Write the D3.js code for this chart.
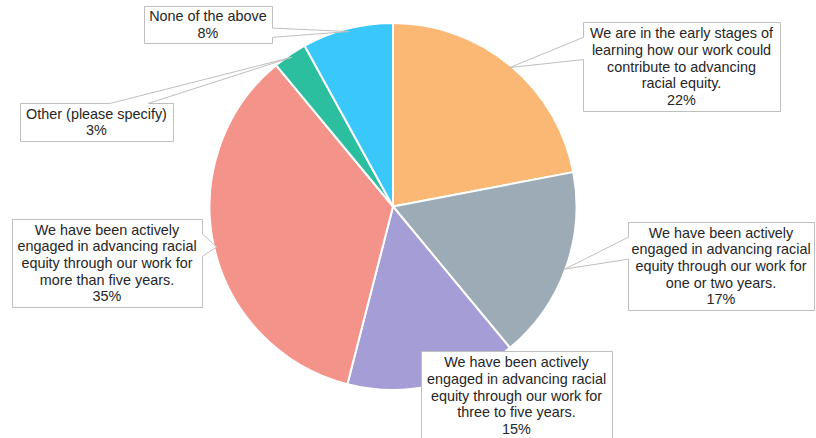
<!DOCTYPE html>
<html>
<head>
<meta charset="utf-8">
<script src="https://cdn.jsdelivr.net/npm/d3@7/dist/d3.min.js"></script>
<style>
  html, body { margin: 0; padding: 0; background: #ffffff; }
  svg { display: block; }
  text { font-family: "Liberation Sans", Arial, sans-serif; }
</style>
</head>
<body>
<svg id="chart" width="816" height="438"></svg>
<script>
// Survey responses, clockwise from 12 o'clock
const categories = [
  "We are in the early stages of\nlearning how our work could\ncontribute to advancing\nracial equity.",
  "We have been actively\nengaged in advancing racial\nequity through our work for\none or two years.",
  "We have been actively\nengaged in advancing racial\nequity through our work for\nthree to five years.",
  "We have been actively\nengaged in advancing racial\nequity through our work for\nmore than five years.",
  "Other (please specify)",
  "None of the above"
];
const values = [22, 17, 15, 35, 3, 8];
const sliceColors = ["#FAB874", "#9CABB5", "#A59ED6", "#F4938A", "#2BBF9F", "#3AC8FA"];

// Callout boxes: position, size, which edge carries the pointer,
// and where the pointer's base sits along that edge (in twelfths).
const callouts = [
  { x: 583, y: 22,  w: 197, h: 89, side: "left",  base: [2, 5] },
  { x: 628, y: 222, w: 186, h: 88, side: "left",  base: [2, 5] },
  { x: 421, y: 351, w: 191, h: 89, side: "none",  base: [0, 0] },
  { x: 12,  y: 219, w: 190, h: 88, side: "right", base: [2, 5] },
  { x: 20,  y: 103, w: 153, h: 38, side: "top",   base: [7, 10] },
  { x: 144, y: 6,   w: 128, h: 37, side: "right", base: [7, 10] }
];

const svg = d3.select("#chart");
const cx = 393, cy = 206.5, radius = 183.5;
const fontSize = 14.4, lineHeight = 16.7;

const pie = d3.pie().sort(null).value(d => d);
const arcs = pie(values);
const arc = d3.arc().innerRadius(0).outerRadius(radius);
const tipArc = d3.arc().innerRadius(radius * 0.99).outerRadius(radius * 0.99);

const g = svg.append("g").attr("transform", `translate(${cx},${cy})`);

g.selectAll("path.slice")
  .data(arcs)
  .join("path")
  .attr("class", "slice")
  .attr("d", arc)
  .attr("fill", (d, i) => sliceColors[i])
  .attr("stroke", "#ffffff")
  .attr("stroke-width", 2)
  .attr("stroke-linejoin", "round");

// Wedge-shaped callout outline from a box to a tip point
function calloutPath(c, tx, ty) {
  const { x, y, w, h } = c;
  const a = c.base[0] / 12, b = c.base[1] / 12;
  const p = d3.path();
  switch (c.side) {
    case "left":
      p.moveTo(x, y); p.lineTo(x + w, y); p.lineTo(x + w, y + h); p.lineTo(x, y + h);
      p.lineTo(x, y + h * b); p.lineTo(tx, ty); p.lineTo(x, y + h * a); p.closePath();
      break;
    case "right":
      p.moveTo(x, y); p.lineTo(x + w, y); p.lineTo(x + w, y + h * a); p.lineTo(tx, ty);
      p.lineTo(x + w, y + h * b); p.lineTo(x + w, y + h); p.lineTo(x, y + h); p.closePath();
      break;
    case "top":
      p.moveTo(x, y); p.lineTo(x + w * a, y); p.lineTo(tx, ty); p.lineTo(x + w * b, y);
      p.lineTo(x + w, y); p.lineTo(x + w, y + h); p.lineTo(x, y + h); p.closePath();
      break;
    default:
      p.rect(x, y, w, h);
  }
  return p.toString();
}

const labels = svg.append("g");
arcs.forEach((d, i) => {
  const c = callouts[i];
  const [ox, oy] = tipArc.centroid(d);
  const tx = cx + ox, ty = cy + oy;
  labels.append("path")
    .attr("d", calloutPath(c, tx + 0.5, ty + 0.5))
    .attr("transform", "translate(0.5,0.5)")
    .attr("fill", "#ffffff")
    .attr("stroke", "#BFBFBF")
    .attr("stroke-width", 1);

  const lines = categories[i].split("\n").concat([values[i] + "%"]);
  const top = c.y + (c.h - lines.length * lineHeight) / 2;
  const t = labels.append("text")
    .attr("text-anchor", "middle")
    .attr("font-size", fontSize)
    .attr("fill", "#262626");
  lines.forEach((ln, k) => {
    t.append("tspan")
      .attr("x", c.x + c.w / 2)
      .attr("y", top + lineHeight * (k + 0.5) + fontSize * 0.35)
      .text(ln);
  });
});
</script>
</body>
</html>
